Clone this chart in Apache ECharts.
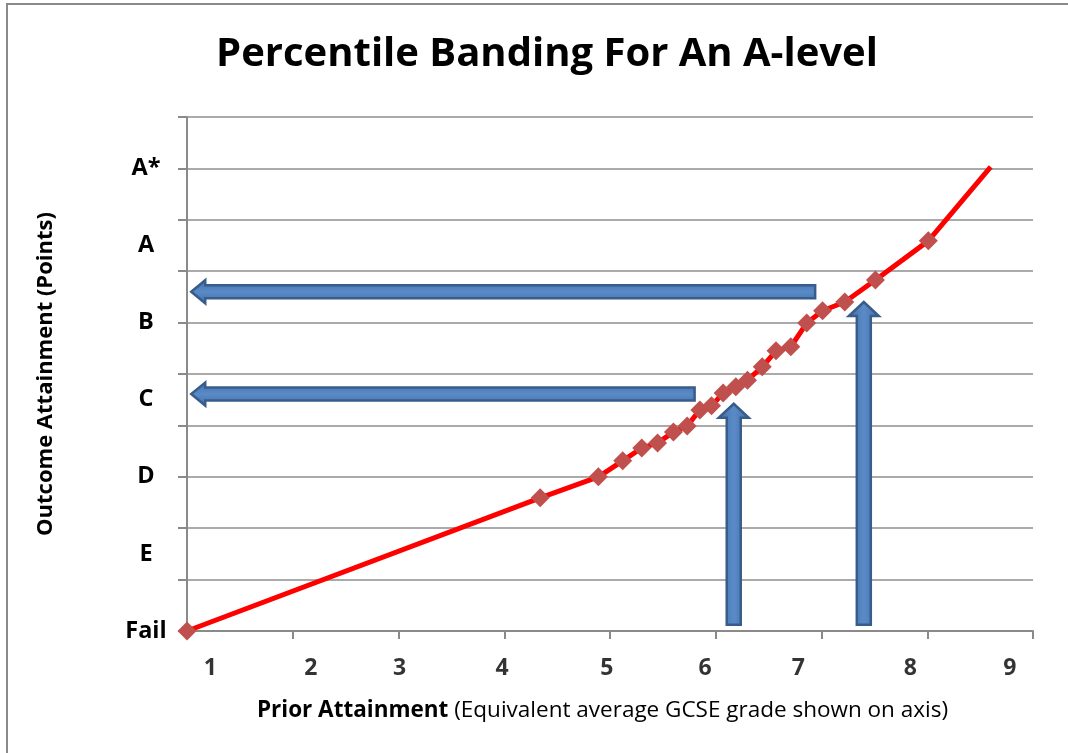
<!DOCTYPE html>
<html>
<head>
<meta charset="utf-8">
<script src="https://cdn.jsdelivr.net/npm/echarts@6/dist/echarts.min.js"></script>
<style>
html,body{margin:0;padding:0;background:#fff;}
#chart{width:1068px;height:753px;}
</style>
</head>
<body>
<div id="chart"></div>
<script>
// Prior attainment (axis units) and outcome attainment (points, grid units)
const priorX = [0, 3.34, 3.89, 4.12, 4.30, 4.45, 4.60, 4.73, 4.85, 4.96, 5.07, 5.19, 5.30, 5.44, 5.57, 5.71, 5.86, 6.01, 6.22, 6.51, 7.01, 7.60];
const outcomeY = [0, 2.59, 3.00, 3.31, 3.56, 3.66, 3.87, 3.99, 4.30, 4.38, 4.63, 4.75, 4.88, 5.14, 5.45, 5.53, 5.99, 6.23, 6.40, 6.83, 7.59, 9.03];
const markerShown = [1,1,1,1,1,1,1,1,1,1,1,1,1,1,1,1,1,1,1,1,1,0];

// Y grade labels and their values
const gradeLabels = ['Fail', 'E', 'D', 'C', 'B', 'A', 'A*'];
const gradeValues = [0, 1.5, 3, 4.5, 6, 7.5, 9];

// GCSE grade tick labels on the x axis and their positions
const gcseLabels = ['1', '2', '3', '4', '5', '6', '7', '8', '9'];
const gcsePos = [0.22, 1.17, 2.01, 2.98, 3.97, 4.90, 5.78, 6.84, 7.78];

// Arrows: [x0, y0, x1(tip), y1(tip)]
const arrows = [
  [5.94, 6.60, 0.04, 6.60],
  [4.80, 4.61, 0.04, 4.61],
  [5.17, 0.12, 5.17, 4.42],
  [6.40, 0.12, 6.40, 6.40]
];

const FONT = '"Open Sans", Lato, sans-serif';
const chart = echarts.init(document.getElementById('chart'));

const lineData = priorX.map((x, i) => markerShown[i]
  ? { value: [x, outcomeY[i]] }
  : { value: [x, outcomeY[i]], symbol: 'none' });

function renderArrow(params, api) {
  const p0 = api.coord([api.value(0), api.value(1)]);
  const p1 = api.coord([api.value(2), api.value(3)]);
  const dx = p1[0] - p0[0], dy = p1[1] - p0[1];
  const len = Math.sqrt(dx * dx + dy * dy);
  const ux = dx / len, uy = dy / len;
  const nx = -uy, ny = ux;
  const horiz = Math.abs(dx) > Math.abs(dy);
  const sw = horiz ? 6.5 : 7;
  const hw = horiz ? 11.5 : 15;
  const hl = 14;
  const bx = p1[0] - ux * hl, by = p1[1] - uy * hl;
  const pts = [
    [p0[0] + nx * sw, p0[1] + ny * sw],
    [bx + nx * sw, by + ny * sw],
    [bx + nx * hw, by + ny * hw],
    [p1[0], p1[1]],
    [bx - nx * hw, by - ny * hw],
    [bx - nx * sw, by - ny * sw],
    [p0[0] - nx * sw, p0[1] - ny * sw]
  ];
  const grad = horiz
    ? new echarts.graphic.LinearGradient(0, 0, 0, 1, [{offset: 0, color: '#3F6FA8'}, {offset: 0.5, color: '#5A8BC8'}, {offset: 1, color: '#3F6FA8'}])
    : new echarts.graphic.LinearGradient(0, 0, 1, 0, [{offset: 0, color: '#3F6FA8'}, {offset: 0.5, color: '#5A8BC8'}, {offset: 1, color: '#3F6FA8'}]);
  return {
    type: 'polygon',
    shape: { points: pts },
    style: { fill: grad, stroke: '#385D8A', lineWidth: 2.5 }
  };
}

const option = {
  backgroundColor: '#ffffff',
  animation: false,
  title: {
    text: 'Percentile Banding For An A-level',
    left: 542,
    textAlign: 'center',
    top: 30,
    textStyle: { fontFamily: FONT, fontWeight: 'bold', fontSize: 40, color: '#000' }
  },
  graphic: [{
    type: 'rect',
    shape: { x: 7, y: 4, width: 1080, height: 780 },
    style: { fill: 'none', stroke: '#8A8A8A', lineWidth: 2 },
    silent: true
  }],
  grid: { left: 187, right: 35, top: 117, bottom: 122 },
  xAxis: {
    type: 'value',
    min: 0, max: 8, interval: 1,
    axisLine: { show: true, lineStyle: { color: '#8A8A8A', width: 2 } },
    axisTick: { show: true, length: 8, lineStyle: { color: '#8A8A8A', width: 2 } },
    axisLabel: { show: false },
    splitLine: { show: false },
    name: '{b|Prior Attainment}{n| (Equivalent average GCSE grade shown on axis)}',
    nameLocation: 'middle',
    nameGap: 68,
    nameTextStyle: {
      padding: [0, 15, 0, 0],
      rich: {
        b: { fontFamily: FONT, fontWeight: 'bold', fontSize: 22.5, color: '#000' },
        n: { fontFamily: FONT, fontWeight: 'normal', fontSize: 22.5, color: '#000' }
      }
    }
  },
  yAxis: [{
    type: 'value',
    min: 0, max: 10, interval: 1,
    axisLine: { show: true, lineStyle: { color: '#8A8A8A', width: 2 } },
    axisTick: { show: true, length: 9, lineStyle: { color: '#8A8A8A', width: 2 } },
    axisLabel: { show: false },
    splitLine: { show: true, lineStyle: { color: '#8E8E8E', width: 1.6 } },
    name: 'Outcome Attainment (Points)',
    nameLocation: 'middle',
    nameGap: 130,
    nameTextStyle: { fontFamily: FONT, fontWeight: 'bold', fontSize: 22, color: '#000' }
  }, {
    type: 'value',
    position: 'left',
    min: 0, max: 10, interval: 1.5,
    axisLine: { show: false },
    axisTick: { show: false },
    splitLine: { show: false },
    axisLabel: {
      show: true,
      margin: 41,
      align: 'center',
      fontFamily: FONT, fontWeight: 'bold', fontSize: 23.5, color: '#000',
      formatter: function (v) {
        const i = gradeValues.findIndex(g => Math.abs(g - v) < 1e-6);
        return i >= 0 ? gradeLabels[i] : '';
      }
    }
  }],
  series: [{
    type: 'custom',
    name: 'arrows',
    renderItem: renderArrow,
    data: arrows,
    z: 2,
    clip: false,
    silent: true
  }, {
    type: 'line',
    name: 'band',
    data: lineData,
    symbol: 'diamond',
    symbolSize: 19,
    lineStyle: { color: '#FF0000', width: 5 },
    itemStyle: { color: '#C0504D' },
    z: 3,
    clip: false,
    silent: true
  }, {
    type: 'scatter',
    name: 'gcse',
    data: gcsePos.map((p, i) => ({ value: [p, 0], name: gcseLabels[i] })),
    symbolSize: 0,
    clip: false,
    silent: true,
    label: {
      show: true,
      position: [0, 37],
      align: 'center',
      verticalAlign: 'middle',
      formatter: '{b}',
      fontFamily: FONT, fontWeight: 'bold', fontSize: 23, color: '#000'
    }
  }]
};
chart.setOption(option);
</script>
</body>
</html>
